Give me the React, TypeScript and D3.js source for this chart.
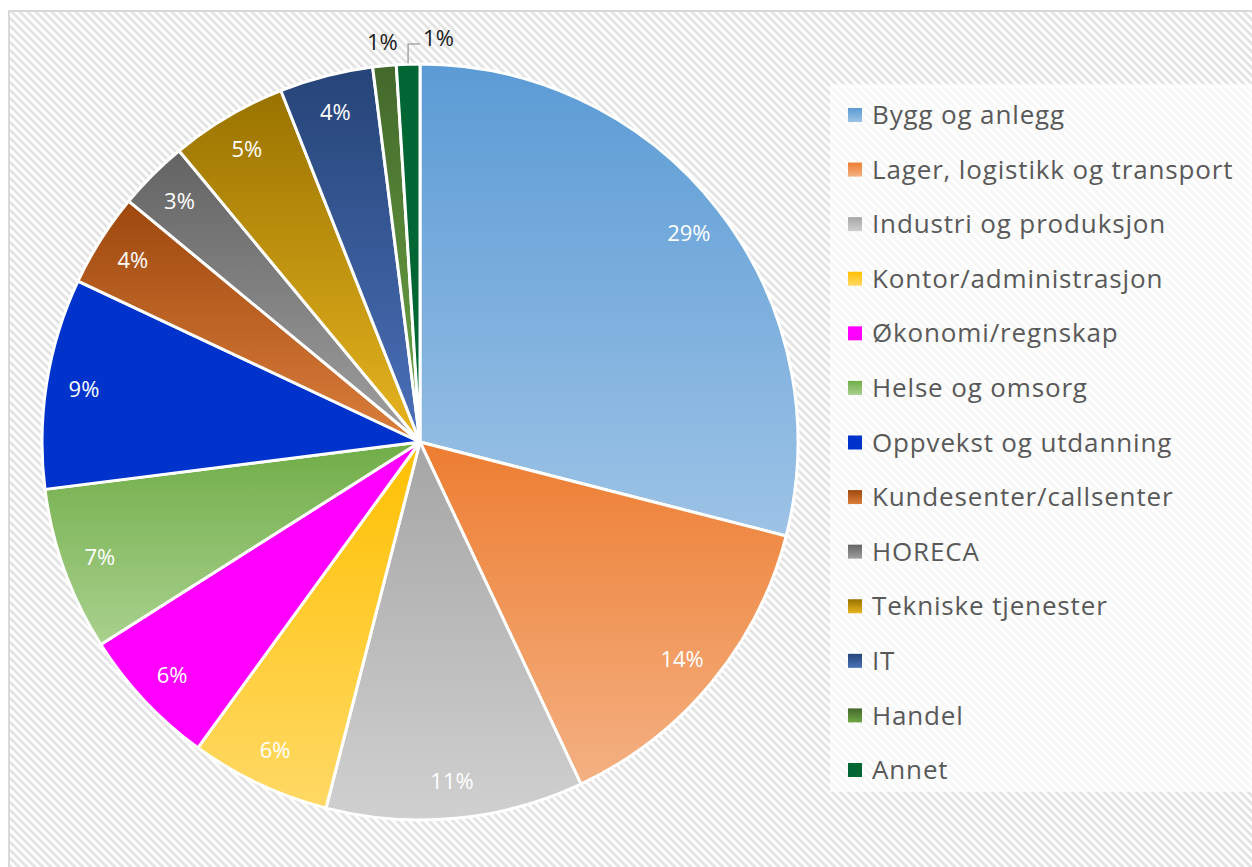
import React, { useRef, useEffect } from 'react';
import * as d3 from 'd3';

const categories = [
  'Bygg og anlegg',
  'Lager, logistikk og transport',
  'Industri og produksjon',
  'Kontor/administrasjon',
  'Økonomi/regnskap',
  'Helse og omsorg',
  'Oppvekst og utdanning',
  'Kundesenter/callsenter',
  'HORECA',
  'Tekniske tjenester',
  'IT',
  'Handel',
  'Annet',
];
const values = [29, 14, 11, 6, 6, 7, 9, 4, 3, 5, 4, 1, 1];
const labels = values.map(v => `${v}%`);

// gradient stops per slice (top -> bottom)
const topColors = ['#5B9BD5', '#ED7D31', '#A5A5A5', '#FFC000', '#FF00FF', '#70AD47', '#0033CC', '#9E480E', '#636363', '#997300', '#264478', '#43682B', '#006633'];
const bottomColors = ['#9DC3E6', '#F4B183', '#D0D0D0', '#FFD966', '#FF00FF', '#A9D18E', '#0033CC', '#DB7E3C', '#A0A0A0', '#E8B520', '#4A70B8', '#6FA845', '#006633'];

const W = 1252;
const H = 867;

const App = () => {
  const svgRef = useRef<SVGSVGElement | null>(null);

  useEffect(() => {
    const svg = d3.select(svgRef.current);
    svg.selectAll('*').remove();

    const defs = svg.append('defs');
    const pat = defs
      .append('pattern')
      .attr('id', 'stripes')
      .attr('width', 8)
      .attr('height', 8)
      .attr('patternUnits', 'userSpaceOnUse');
    pat.append('rect').attr('width', 8).attr('height', 8).attr('fill', '#fff');
    pat
      .append('path')
      .attr('d', 'M-4,-4L12,12M-4,4L4,12M4,-4L12,4')
      .attr('stroke', '#E3E3E3')
      .attr('stroke-width', 2.8);

    categories.forEach((_, i) => {
      const g = defs
        .append('linearGradient')
        .attr('id', `grad${i}`)
        .attr('x1', 0)
        .attr('y1', 0)
        .attr('x2', 0)
        .attr('y2', 1);
      g.append('stop').attr('offset', '0%').attr('stop-color', topColors[i]);
      g.append('stop').attr('offset', '100%').attr('stop-color', bottomColors[i]);
    });

    // chart area
    svg
      .append('rect')
      .attr('x', 9)
      .attr('y', 11)
      .attr('width', W)
      .attr('height', H)
      .attr('fill', 'url(#stripes)')
      .attr('stroke', '#D9D9D9')
      .attr('stroke-width', 2);

    const cx = 420;
    const cy = 442;
    const R = 378;

    const pie = d3
      .pie<number>()
      .sort(null)
      .value(d => d);
    const arcs = pie(values);
    const arc = d3.arc<d3.PieArcDatum<number>>().innerRadius(0).outerRadius(R);
    const labelArc = d3.arc<d3.PieArcDatum<number>>().innerRadius(R * 0.9).outerRadius(R * 0.9);

    const g = svg.append('g').attr('transform', `translate(${cx},${cy})`);

    g.selectAll('path.slice')
      .data(arcs)
      .join('path')
      .attr('class', 'slice')
      .attr('d', arc)
      .attr('fill', (_, i) => `url(#grad${i})`)
      .attr('stroke', '#fff')
      .attr('stroke-width', 3)
      .attr('stroke-linejoin', 'round');

    const font = "'Open Sans', 'Noto Sans', sans-serif";

    // inside labels
    g.selectAll('text.inlabel')
      .data(arcs.filter(d => d.data > 1))
      .join('text')
      .attr('class', 'inlabel')
      .attr('transform', d => `translate(${labelArc.centroid(d)})`)
      .attr('text-anchor', 'middle')
      .attr('dy', '0.36em')
      .attr('fill', '#fff')
      .style('font-family', font)
      .style('font-size', '22px')
      .text(d => `${d.data}%`);

    // small outside labels
    const small = arcs.filter(d => d.data <= 1);
    small.forEach((d, k) => {
      const mid = (d.startAngle + d.endAngle) / 2;
      if (k === 0) {
        const r = 400;
        g.append('text')
          .attr('x', r * Math.sin(mid))
          .attr('y', -r * Math.cos(mid) - 2)
          .attr('text-anchor', 'middle')
          .attr('dy', '0.36em')
          .attr('fill', '#1a1a1a')
          .style('font-family', font)
          .style('font-size', '22px')
          .text(labels[d.index]);
      } else {
        const x0 = (R + 1) * Math.sin(mid);
        const y0 = -(R + 1) * Math.cos(mid);
        const yTop = -398;
        g.append('path')
          .attr('d', `M${x0},${y0}L${x0},${yTop}L${x0 + 12},${yTop}`)
          .attr('fill', 'none')
          .attr('stroke', '#A6A6A6')
          .attr('stroke-width', 1.5);
        g.append('text')
          .attr('x', x0 + 15)
          .attr('y', yTop - 6)
          .attr('dy', '0.36em')
          .attr('fill', '#1a1a1a')
          .style('font-family', font)
          .style('font-size', '22px')
          .text(labels[d.index]);
      }
    });

    // legend
    svg
      .append('rect')
      .attr('x', 830)
      .attr('y', 84)
      .attr('width', W - 830)
      .attr('height', 708)
      .attr('fill', '#fff')
      .attr('opacity', 0.72);

    const ly = d3
      .scalePoint<string>()
      .domain(categories)
      .range([115, 770]);

    const leg = svg
      .append('g')
      .selectAll('g')
      .data(categories)
      .join('g')
      .attr('transform', d => `translate(848,${ly(d)})`);

    leg
      .append('rect')
      .attr('x', 0)
      .attr('y', -7)
      .attr('width', 14)
      .attr('height', 14)
      .attr('fill', (_, i) => `url(#grad${i})`);

    leg
      .append('text')
      .attr('x', 24)
      .attr('dy', '0.35em')
      .attr('fill', '#595959')
      .style('font-family', font)
      .style('font-size', '26px')
      .style('letter-spacing', '0.85px')
      .text(d => d);
  }, []);

  return (
    <div style={{ position: 'absolute', left: 0, top: 0, width: W, height: H }}>
      <svg ref={svgRef} width={W} height={H}></svg>
    </div>
  );
};

export default App;
